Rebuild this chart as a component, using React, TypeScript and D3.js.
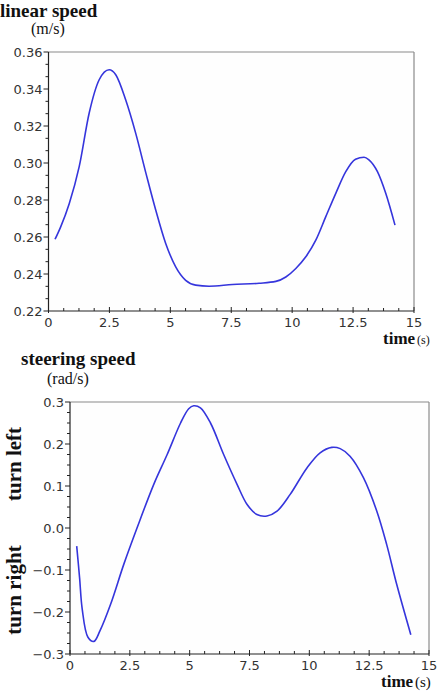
import React from "react";
import * as d3 from "d3";

// linear speed (m/s) over time (s)
const linearTime = [0.27, 0.5, 0.85, 1.26, 1.67, 2.08, 2.49, 2.76, 3.17, 3.58, 4.0, 4.4, 4.81, 5.22, 5.63, 6.04, 6.59, 7.55, 8.64, 9.33, 9.74, 10.15, 10.56, 10.97, 11.38, 11.79, 12.2, 12.6, 12.95, 13.15, 13.5, 13.84, 14.22];
const linearSpeed = [0.2588, 0.2655, 0.278, 0.298, 0.327, 0.345, 0.3504, 0.3477, 0.334, 0.316, 0.2944, 0.2746, 0.2565, 0.2439, 0.2366, 0.234, 0.2334, 0.2343, 0.235, 0.236, 0.2384, 0.243, 0.2493, 0.2583, 0.271, 0.2836, 0.2953, 0.302, 0.3031, 0.3017, 0.2953, 0.2836, 0.2664];

// steering speed (rad/s) over time (s)
const steeringTime = [0.28, 0.4, 0.51, 0.75, 1.0, 1.25, 1.7, 2.25, 2.8, 3.5, 4.06, 4.62, 4.96, 5.17, 5.45, 5.87, 6.42, 6.98, 7.4, 7.81, 8.23, 8.65, 9.2, 9.9, 10.45, 10.94, 11.29, 11.7, 12.26, 12.82, 13.23, 13.65, 14.24];
const steeringSpeed = [-0.043, -0.118, -0.193, -0.26, -0.27, -0.245, -0.181, -0.086, 0.0, 0.104, 0.175, 0.25, 0.284, 0.291, 0.286, 0.25, 0.175, 0.104, 0.056, 0.032, 0.0285, 0.04, 0.08, 0.143, 0.179, 0.192, 0.189, 0.171, 0.12, 0.04, -0.039, -0.134, -0.254];

const timeTicks = [0, 2.5, 5, 7.5, 10, 12.5, 15];
const linearTicks = [0.22, 0.24, 0.26, 0.28, 0.3, 0.32, 0.34, 0.36];
const steeringTicks = [-0.3, -0.2, -0.1, 0, 0.1, 0.2, 0.3];

const LINE = "#3535dc";
const SERIF = "'Liberation Serif', 'Times New Roman', serif";
const SANS = "'DejaVu Sans', sans-serif";

interface PanelProps {
  left: number;
  right: number;
  top: number;
  bottom: number;
  xs: number[];
  ys: number[];
  yDomain: [number, number];
  yTicks: number[];
  yMinorPer: number;
  yFormat: (v: number) => string;
  curve: d3.CurveFactory;
}

function Panel({ left, right, top, bottom, xs, ys, yDomain, yTicks, yMinorPer, yFormat, curve }: PanelProps) {
  const x = d3.scaleLinear().domain([0, 15]).range([left, right]);
  const y = d3.scaleLinear().domain(yDomain).range([bottom, top]);

  const line = d3.line<number>()
    .x((_, i) => x(xs[i]))
    .y((d) => y(d))
    .curve(curve);

  // minor ticks
  const xMinor: number[] = [];
  for (let i = 0; i < timeTicks.length - 1; i++) {
    for (let k = 1; k < 4; k++) xMinor.push(timeTicks[i] + (k * 2.5) / 4);
  }
  const yMinor: number[] = [];
  for (let i = 0; i < yTicks.length - 1; i++) {
    const step = yTicks[i + 1] - yTicks[i];
    for (let k = 1; k < yMinorPer; k++) yMinor.push(yTicks[i] + (k * step) / yMinorPer);
  }

  return (
    <g>
      <rect x={left} y={top} width={right - left} height={bottom - top} fill="#fefefe" />
      <line x1={left} x2={right} y1={top} y2={top} stroke="#8a8a8a" strokeWidth={1.2} />
      <line x1={right} x2={right} y1={top} y2={bottom} stroke="#8a8a8a" strokeWidth={1.2} />
      <line x1={left} x2={left} y1={top} y2={bottom} stroke="#222" strokeWidth={1.2} />
      <line x1={left} x2={right} y1={bottom} y2={bottom} stroke="#222" strokeWidth={1.2} />

      {yMinor.map((v, i) => (
        <line key={"ym" + i} x1={left - 3} x2={left} y1={y(v)} y2={y(v)} stroke="#222" />
      ))}
      {yTicks.map((v) => (
        <g key={"y" + v}>
          <line x1={left - 5} x2={left} y1={y(v)} y2={y(v)} stroke="#222" />
          <text x={left - 6} y={y(v)} dy="0.36em" textAnchor="end" fontFamily={SANS} fontSize={13} fill="#333">
            {yFormat(v)}
          </text>
        </g>
      ))}
      {xMinor.map((v, i) => (
        <line key={"xm" + i} x1={x(v)} x2={x(v)} y1={bottom - 3} y2={bottom} stroke="#222" />
      ))}
      {timeTicks.map((v) => (
        <g key={"x" + v}>
          <line x1={x(v)} x2={x(v)} y1={bottom - 4} y2={bottom + 2} stroke="#222" />
          <text x={x(v)} y={bottom + 16} textAnchor="middle" fontFamily={SANS} fontSize={13} fill="#333">
            {String(v)}
          </text>
        </g>
      ))}

      <path d={line(ys) ?? ""} fill="none" stroke={LINE} strokeWidth={1.6} />
    </g>
  );
}

export default function App() {
  const fmtMinus = (v: number) => d3.format(".1f")(v).replace("-", "\u2212");
  return (
    <div style={{ position: "absolute", left: 0, top: 0, background: "#fff" }}>
      <svg width={439} height={691} style={{ display: "block" }}>
        <text x={0} y={17} fontFamily={SERIF} fontWeight="bold" fontSize={19} fill="#111">linear speed</text>
        <text x={31} y={34} fontFamily={SERIF} fontSize={16} fill="#111">(m/s)</text>

        <Panel
          left={48.5}
          right={414}
          top={52}
          bottom={311}
          xs={linearTime}
          ys={linearSpeed}
          yDomain={[0.22, 0.36]}
          yTicks={linearTicks}
          yMinorPer={3}
          yFormat={d3.format(".2f")}
          curve={d3.curveMonotoneX}
        />

        <text x={383} y={344} fontFamily={SERIF} fontWeight="bold" fontSize={17} fill="#111">time</text>
        <text x={417} y={344} fontFamily={SERIF} fontSize={12} fill="#111">(s)</text>

        <text x={21} y={365} fontFamily={SERIF} fontWeight="bold" fontSize={19} fill="#111">steering speed</text>
        <text x={47} y={384} fontFamily={SERIF} fontSize={16} fill="#111">(rad/s)</text>

        <text transform="translate(21,464) rotate(-90)" textAnchor="middle" fontFamily={SERIF} fontWeight="bold" fontSize={21} fill="#111">turn left</text>
        <text transform="translate(21,590) rotate(-90)" textAnchor="middle" fontFamily={SERIF} fontWeight="bold" fontSize={21} fill="#111">turn right</text>

        <Panel
          left={70}
          right={429}
          top={402}
          bottom={654}
          xs={steeringTime}
          ys={steeringSpeed}
          yDomain={[-0.3, 0.3]}
          yTicks={steeringTicks}
          yMinorPer={4}
          yFormat={fmtMinus}
          curve={d3.curveCatmullRom.alpha(0.5)}
        />

        <text x={381} y={687} fontFamily={SERIF} fontWeight="bold" fontSize={17} fill="#111">time</text>
        <text x={415} y={687} fontFamily={SERIF} fontSize={15} fill="#111">(s)</text>
      </svg>
    </div>
  );
}
